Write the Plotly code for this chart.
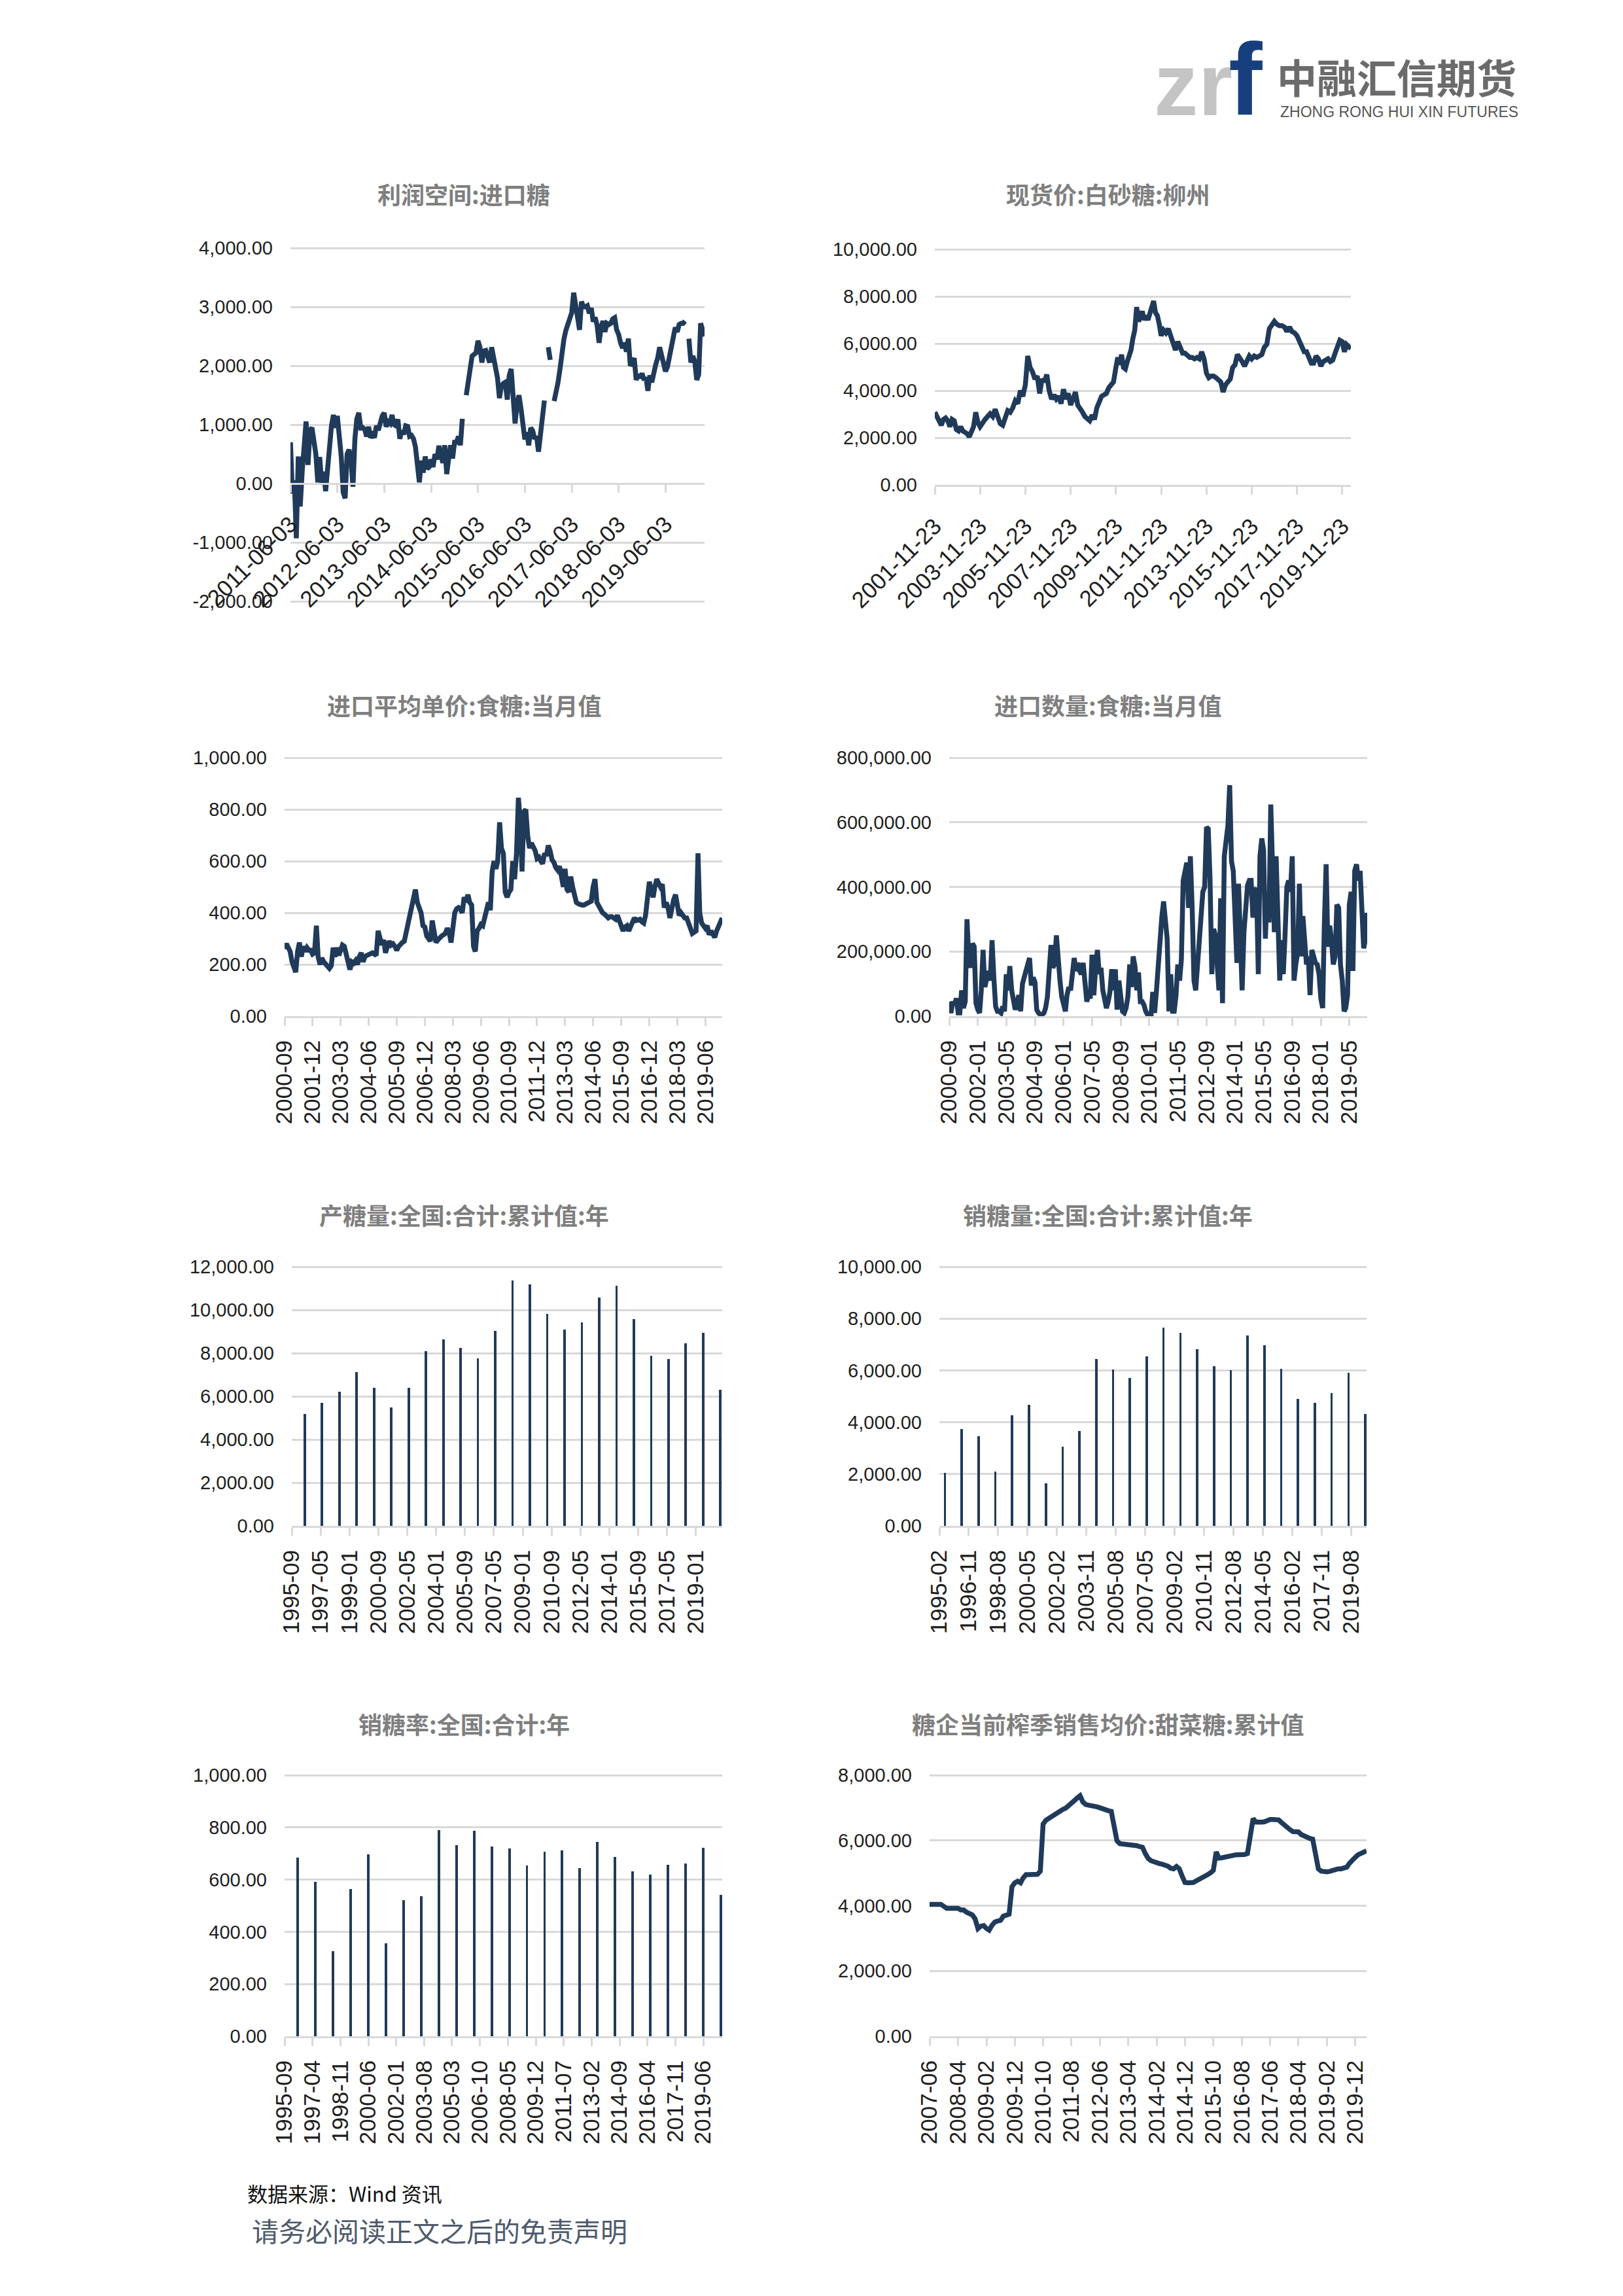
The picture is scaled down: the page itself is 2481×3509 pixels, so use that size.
import pandas as pd
import plotly.graph_objects as go

# ----------------------------------------------------------------- data
# 1) 利润空间:进口糖 (semi-monthly readings from 2011-06-03)
PROFIT_START = "2011-06-03"
PROFIT_VALUES = [
    700, -170, 55, -930, 460, -390, 200, 720, 1055, 315, 900, 950, 720, 500, 20, 450, -20, 200, -130, 300, 600, 980, 1165, 945,
    1150, 870, 460, -150, -250, 500, 575, 400, -55, 760, 1100, 1200, 945, 950, 920, 800, 965, 780, 830, 780, 980, 905, 1050, 1150,
    1200, 965, 1050, 1020, 1165, 1000, 980, 1090, 760, 900, 835, 980, 970, 800, 815, 760, 620, 315, 20, 390, 185, 460, 250, 280,
    410, 280, 500, 410, 640, 500, 350, 650, 160, 425, 650, 425, 700, 700, 800, 650, 1100, None, 1500, 1680, 1945, 2165, 2200, 2220,
    2425, 2315, 2055, 2250, 2260, 2165, 2055, 2315, 2150, 1905, 1795, 1450, 1650, 1700, 1720, 1425, 1835, 1945, 1400, 1020, 1350, 1500, 1280, 1000,
    750, 870, 650, 945, 900, 760, 800, 540, 850, 1050, 1410, None, 2315, 2100, None, 1400, 1535, 1720, 1945, 2300, 2450, 2600, 2720, 2850,
    2900, 3240, 3055, 2850, 2610, 3090, 3000, 3000, 3020, 2890, 2980, 2750, 2820, 2685, 2390, 2650, 2760, 2575, 2720, 2700, 2720, 2795, 2815, 2610,
    2535, 2390, 2300, 2390, 2240, 2460, 2000, 2055, 2130, 1760, 1850, 1795, 1870, 1760, 1800, 1575, 1835, 1720, 1940, 2020, 2130, 2315, 2180, 2020,
    1905, 1980, 2160, 2390, 2500, 2650, 2575, 2700, 2720, 2720, 2760, None, 2460, 2055, 2165, 2070, 1760, 1850, 2720, 2575, 2500,
]
PROFIT_TICKS = ["2011-06-03", "2012-06-03", "2013-06-03", "2014-06-03", "2015-06-03",
                "2016-06-03", "2017-06-03", "2018-06-03", "2019-06-03"]

# 2) 现货价:白砂糖:柳州 (readings grouped by two-year period)
SPOT_BOUNDS = ["2001-11-23", "2003-11-23", "2005-11-23", "2007-11-23", "2009-11-23", "2011-11-23",
               "2013-11-23", "2015-11-23", "2017-11-23", "2019-11-23", "2020-04-10"]
SPOT_COUNTS = [21, 18, 19, 19, 24, 19, 19, 18, 19, 5]
SPOT_VALUES = [
    3085, 2900, 2780, 2530, 2780, 2840, 2720, 2470, 2780, 2720, 2350, 2290, 2470, 2290, 2230, 2170, 2040, 2230, 2470, 3085, 2650,
    2470, 2650, 2780, 2900, 3020, 2900, 3210, 2900, 2600, 2530, 2900, 3150, 3085, 3270, 3570, 3450, 4000, 3760,
    4250, 5470, 4980, 4800, 4490, 4620, 3880, 4490, 4370, 4680, 4000, 3640, 3820, 3640, 3760, 3450, 4060, 3640, 3880,
    3390, 3640, 3940, 3390, 3270, 3085, 2900, 2780, 2720, 2960, 2780, 3270, 3570, 3760, 3820, 3880, 4120, 4250, 4370,
    4980, 5410, 5100, 5530, 4980, 4920, 5230, 5470, 5720, 6210, 6570, 7550, 6940, 7120, 7370, 7000, 7180, 7000, 7250, 7550, 7800, 7310, 7180, 6820,
    6330, 6570, 6450, 6630, 6330, 6080, 5720, 6080, 5780, 5590, 5590, 5470, 5410, 5410, 5350, 5410, 5350, 5650, 5350,
    4740, 4550, 4620, 4620, 4550, 4490, 4370, 3940, 4250, 4370, 4490, 4980, 5100, 5530, 5410, 5230, 5040, 5290, 5470,
    5350, 5470, 5410, 5470, 5530, 5840, 5960, 6630, 6820, 6940, 6820, 6760, 6760, 6700, 6510, 6700, 6510, 6450,
    6330, 6080, 5840, 5650, 5650, 5350, 5170, 5170, 5470, 5350, 5040, 5230, 5290, 5350, 5230, 5290, 5590, 5900, 6140,
    6080, 5650, 5960, 5840, 5780,
]
SPOT_TICKS = ["2001-11-23", "2003-11-23", "2005-11-23", "2007-11-23", "2009-11-23",
              "2011-11-23", "2013-11-23", "2015-11-23", "2017-11-23", "2019-11-23"]

# 3) 进口平均单价:食糖:当月值 (monthly from 2000-09)
IMPORT_PRICE_START = "2000-09"
IMPORT_PRICE = [
    260, 280, 265, 250, 210, 185, 170, 250, 285, 230,
    270, 250, 265, 255, 255, 240, 245, 350, 230, 200,
    225, 210, 200, 190, 185, 195, 265, 230, 265, 235,
    260, 275, 270, 240, 200, 180, 210, 205, 215, 200,
    230, 245, 210, 230, 235, 240, 240, 245, 240, 235,
    330, 305, 275, 295, 245, 270, 290, 275, 280, 270,
    255, 270, 280, 285, 290, 325, 345, 380, 420, 460,
    490, 440, 425, 400, 350, 345, 310, 295, 290, 370,
    310, 285, 295, 305, 310, 315, 320, 340, 325, 285,
    330, 400, 415, 420, 415, 400, 460, 440, 470, 440,
    430, 270, 250, 330, 340, 355, 350, 375, 400, 440,
    410, 560, 600, 570, 600, 750, 650, 630, 480, 460,
    480, 490, 600, 530, 630, 845, 760, 560, 790, 800,
    700, 650, 670, 655, 640, 610, 615, 600, 590, 630,
    620, 660, 640, 605, 595, 575, 565, 580, 540, 500,
    570, 490, 480, 540, 500, 470, 440, 435, 430, 430,
    430, 435, 440, 440, 445, 500, 530, 440, 425, 415,
    400, 395, 390, 380, 385, 385, 380, 375, 390, 370,
    355, 330, 345, 350, 330, 350, 370, 380, 370, 375,
    375, 365, 360, 390, 440, 520, 490, 460, 500, 530,
    515, 500, 510, 420, 440, 420, 380, 420, 450, 470,
    420, 390, 400, 390, 380, 380, 360, 330, 320, 325,
    330, 630, 400, 360, 345, 340, 350, 315, 330, 320,
    305, 330, 350, 370, 380,
]
IMPORT_PRICE_TICKS = ["2000-09", "2001-12", "2003-03", "2004-06", "2005-09", "2006-12", "2008-03", "2009-06",
                      "2010-09", "2011-12", "2013-03", "2014-06", "2015-09", "2016-12", "2018-03", "2019-06"]

# 4) 进口数量:食糖:当月值 (monthly from 2000-09, thousand tonnes)
IMPORT_QTY_START = "2000-09"
IMPORT_QTY_K = [
    45, 10, 45, 35, 55, 10, 10, 80, 25, 45,
    300, 175, 150, 225, 215, 40, 20, 10, 80, 205,
    90, 120, 140, 110, 235, 120, 30, 15, 15, 10,
    30, 15, 130, 80, 155, 80, 45, 20, 40, 65,
    15, 100, 120, 140, 165, 180, 95, 120, 105, 20,
    10, 5, 5, 10, 25, 60, 140, 220, 150, 160,
    250, 160, 110, 60, 30, 15, 65, 90, 80, 150,
    180, 140, 165, 140, 130, 165, 90, 45, 65, 55,
    190, 65, 150, 205, 130, 150, 80, 45, 25, 45,
    75, 145, 80, 145, 20, 110, 60, 15, 10, 25,
    60, 160, 90, 185, 155, 80, 135, 45, 45, 35,
    15, 5, 5, 5, 75, 10, 75, 160, 255, 305,
    355, 300, 240, 15, 130, 15, 15, 65, 160, 110,
    175, 420, 460, 475, 335, 495, 335, 110, 80, 175,
    260, 310, 385, 400, 585, 580, 420, 130, 270, 250,
    165, 80, 365, 40, 495, 560, 590, 715, 480, 450,
    280, 165, 410, 225, 80, 260, 355, 405, 420, 420,
    305, 390, 395, 130, 495, 550, 515, 240, 385, 290,
    655, 375, 260, 495, 250, 110, 235, 130, 250, 400,
    420, 385, 495, 110, 160, 195, 410, 185, 310, 195,
    160, 185, 65, 205, 175, 165, 160, 130, 55, 25,
    280, 470, 215, 280, 235, 160, 185, 345, 335, 160,
    110, 15, 25, 65, 345, 385, 140, 450, 470, 420,
    450, 345, 210, 240, 320,
]
IMPORT_QTY_TICKS = ["2000-09", "2002-01", "2003-05", "2004-09", "2006-01", "2007-05", "2008-09", "2010-01",
                    "2011-05", "2012-09", "2014-01", "2015-05", "2016-09", "2018-01", "2019-05"]

# 5) 产糖量:全国:合计:累计值:年 (June of each year)
PROD_YEARS = list(range(1996, 2021))
PROD_VALUES = [5180, 5690, 6200, 7130, 6400, 5490, 6380, 8090, 8640, 8250, 7750, 9040, 11370,
               11170, 9830, 9090, 9430, 10570, 11130, 9570, 7890, 7740, 8440, 8940, 6300]
PROD_TICKS = ["1995-09", "1997-05", "1999-01", "2000-09", "2002-05", "2004-01", "2005-09", "2007-05",
              "2009-01", "2010-09", "2012-05", "2014-01", "2015-09", "2017-05", "2019-01"]

# 6) 销糖量:全国:合计:累计值:年
SALES_YEARS = list(range(1995, 2021))
SALES_VALUES = [2040, 3750, 3470, 2090, 4280, 4660, 1640, 3050, 3670, 6450, 6040, 5710, 6530,
                7640, 7450, 6810, 6150, 6000, 7360, 6980, 6070, 4910, 4740, 5120, 5910, 4330]
SALES_TICKS = ["1995-02", "1996-11", "1998-08", "2000-05", "2002-02", "2003-11", "2005-08", "2007-05",
               "2009-02", "2010-11", "2012-08", "2014-05", "2016-02", "2017-11", "2019-08"]

# 7) 销糖率:全国:合计:年
RATE_YEARS = list(range(1996, 2021))
RATE_VALUES = [683, 591, 325, 565, 698, 355, 521, 536, 790, 731, 786, 728, 720,
               653, 707, 711, 644, 744, 687, 632, 620, 657, 662, 723, 541]
RATE_TICKS = ["1995-09", "1997-04", "1998-11", "2000-06", "2002-01", "2003-08", "2005-03", "2006-10",
              "2008-05", "2009-12", "2011-07", "2013-02", "2014-09", "2016-04", "2017-11", "2019-06"]

# 8) 糖企当前榨季销售均价:甜菜糖:累计值 (monthly from 2007-06)
BEET_START = "2007-06"
BEET_VALUES = [
    4040, 4040, 4040, 4040, 4040, 3980, 3920, 3920, 3920, 3920,
    3920, 3870, 3870, 3800, 3740, 3720, 3600, 3300, 3370, 3390,
    3300, 3250, 3400, 3500, 3530, 3550, 3680, 3720, 3740, 4580,
    4700, 4750, 4700, 4850, 4950, 4950, 4950, 4950, 4960, 5060,
    6500, 6620, 6680, 6720, 6780, 6820, 6880, 6950, 6990, 7080,
    7150, 7220, 7300, 7370, 7180, 7100, 7080, 7070, 7060, 7030,
    7000, 6960, 6940, 6910, 6890, 6400, 5990, 5900, 5890, 5910,
    5900, 5880, 5860, 5840, 5810, 5790, 5600, 5450, 5380, 5340,
    5320, 5290, 5270, 5250, 5210, 5150, 5130, 5200, 5130, 4900,
    4710, 4700, 4700, 4710, 4760, 4800, 4850, 4900, 4950, 5010,
    5080, 5650, 5460, 5470, 5480, 5490, 5510, 5540, 5560, 5560,
    5560, 5570, 5600, 6100, 6670, 6560, 6550, 6560, 6570, 6610,
    6640, 6640, 6640, 6630, 6550, 6460, 6400, 6330, 6270, 6280,
    6260, 6180, 6130, 6100, 6060, 6040, 5500, 5130, 5060, 5040,
    5040, 5050, 5080, 5130, 5130, 5130, 5150, 5180, 5300, 5420,
    5480, 5560, 5600, 5620, 5680,
]
BEET_TICKS = ["2007-06", "2008-04", "2009-02", "2009-12", "2010-10", "2011-08", "2012-06", "2013-04",
              "2014-02", "2014-12", "2015-10", "2016-08", "2017-06", "2018-04", "2019-02", "2019-12"]

TITLES = ["利润空间:进口糖", "现货价:白砂糖:柳州", "进口平均单价:食糖:当月值", "进口数量:食糖:当月值",
          "产糖量:全国:合计:累计值:年", "销糖量:全国:合计:累计值:年", "销糖率:全国:合计:年",
          "糖企当前榨季销售均价:甜菜糖:累计值"]

# ----------------------------------------------------------------- derived x values
profit_x = [pd.Timestamp(PROFIT_START) + pd.Timedelta(days=365.25 / 24 * k) for k in range(len(PROFIT_VALUES))]

spot_x = []
for i, n in enumerate(SPOT_COUNTS):
    a, b = pd.Timestamp(SPOT_BOUNDS[i]), pd.Timestamp(SPOT_BOUNDS[i + 1])
    last = i == len(SPOT_COUNTS) - 1
    step = (b - a) / (n - 1 if last else n)
    spot_x += [a + step * k for k in range(n)]

price_x = pd.date_range(IMPORT_PRICE_START, periods=len(IMPORT_PRICE), freq="MS")
qty_x = pd.date_range(IMPORT_QTY_START, periods=len(IMPORT_QTY_K), freq="MS")
qty_y = [v * 1000 for v in IMPORT_QTY_K]
beet_x = pd.date_range(BEET_START, periods=len(BEET_VALUES), freq="MS")
prod_x = [f"{y}-06-01" for y in PROD_YEARS]
sales_x = [f"{y}-06-01" for y in SALES_YEARS]
rate_x = [f"{y}-06-01" for y in RATE_YEARS]

# ----------------------------------------------------------------- styling
W, H = 2481, 3509
NAVY = "#203a5a"
GRID = "#d9d9d9"
TXT = "#1e1e1e"
YFONT = dict(family="Liberation Sans, Arial, sans-serif", size=29, color=TXT)
XFONT = dict(family="Liberation Sans, Arial, sans-serif", size=35, color=TXT)
CJK = "Noto Sans CJK SC"
PAD = 3  # px of head-room so the outermost gridline is drawn


def fx(px):
    return px / W


def fy(py):
    return 1 - py / H


def yaxis(top, bot, vals, xname, pad_bottom=False):
    lo, hi = vals[0], vals[-1]
    per_px = (hi - lo) / (bot - top)
    rng_hi = hi + PAD * per_px
    rng_lo = lo - PAD * per_px if pad_bottom else lo
    dom_bot = bot + PAD if pad_bottom else bot
    return dict(domain=[fy(dom_bot), fy(top - PAD)], range=[rng_lo, rng_hi], tickvals=vals,
                ticktext=[f"{v:,.2f}" for v in vals], tickfont=YFONT, showgrid=True,
                gridcolor=GRID, gridwidth=2.5, zeroline=False, showline=False, ticks="",
                ticklabelstandoff=26, anchor=xname, automargin=False, fixedrange=True)


def xaxis(left, right, rng, ticks, yname, angle=-90, standoff=8):
    return dict(domain=[fx(left), fx(right)], type="date", range=rng, tickvals=ticks, ticktext=ticks,
                tickangle=angle, tickfont=XFONT, showgrid=False, zeroline=False, showline=True,
                linecolor=GRID, linewidth=2.5, ticks="outside", ticklen=12, tickcolor=GRID,
                tickwidth=2.5, ticklabelstandoff=standoff, anchor=yname, automargin=False,
                fixedrange=True)


fig = go.Figure()

LW = 7.5
BARW = 52 * 86400000

fig.add_trace(go.Scatter(x=profit_x, y=PROFIT_VALUES, mode="lines", line=dict(color=NAVY, width=LW),
                         connectgaps=False, xaxis="x", yaxis="y"))
fig.add_trace(go.Scatter(x=spot_x, y=SPOT_VALUES, mode="lines", line=dict(color=NAVY, width=LW),
                         xaxis="x2", yaxis="y2"))
fig.add_trace(go.Scatter(x=price_x, y=IMPORT_PRICE, mode="lines", line=dict(color=NAVY, width=LW),
                         xaxis="x3", yaxis="y3"))
fig.add_trace(go.Scatter(x=qty_x, y=qty_y, mode="lines", line=dict(color=NAVY, width=LW),
                         xaxis="x4", yaxis="y4"))
fig.add_trace(go.Bar(x=prod_x, y=PROD_VALUES, width=BARW, marker=dict(color=NAVY, line=dict(width=0)),
                     xaxis="x5", yaxis="y5"))
fig.add_trace(go.Bar(x=sales_x, y=SALES_VALUES, width=BARW, marker=dict(color=NAVY, line=dict(width=0)),
                     xaxis="x6", yaxis="y6"))
fig.add_trace(go.Bar(x=rate_x, y=RATE_VALUES, width=BARW, marker=dict(color=NAVY, line=dict(width=0)),
                     xaxis="x7", yaxis="y7"))
fig.add_trace(go.Scatter(x=beet_x, y=BEET_VALUES, mode="lines", line=dict(color=NAVY, width=LW),
                         xaxis="x8", yaxis="y8"))

layout = dict(template="none", width=W, height=H, margin=dict(l=0, r=0, t=0, b=0, pad=0),
              paper_bgcolor="white", plot_bgcolor="white", showlegend=False, bargap=0,
              font=dict(family="Liberation Sans, sans-serif", color=TXT))

# chart 1 : x axis sits on the zero line
c1_top, c1_bot = 379, 919
y1_vals = list(range(-2000, 4001, 1000))
layout["yaxis"] = yaxis(c1_top, c1_bot, y1_vals, "x", pad_bottom=True)
zero_py = c1_bot - (0 - y1_vals[0]) / (y1_vals[-1] - y1_vals[0]) * (c1_bot - c1_top)
xa1 = xaxis(444, 1077, [PROFIT_START, profit_x[-1]], PROFIT_TICKS, "free", angle=-45, standoff=14)
xa1["position"] = fy(zero_py)
layout["xaxis"] = xa1

layout["yaxis2"] = yaxis(381, 741, list(range(0, 10001, 2000)), "x2")
layout["xaxis2"] = xaxis(1429, 2065, [SPOT_BOUNDS[0], SPOT_BOUNDS[-1]], SPOT_TICKS, "y2", angle=-45, standoff=14)

layout["yaxis3"] = yaxis(1158, 1553, list(range(0, 1001, 200)), "x3")
layout["xaxis3"] = xaxis(435, 1104, [price_x[0], price_x[-1]], IMPORT_PRICE_TICKS, "y3")

layout["yaxis4"] = yaxis(1158, 1553, list(range(0, 800001, 200000)), "x4")
layout["xaxis4"] = xaxis(1451, 2090, [qty_x[0], qty_x[-1]], IMPORT_QTY_TICKS, "y4")

layout["yaxis5"] = yaxis(1936, 2332, list(range(0, 12001, 2000)), "x5")
layout["xaxis5"] = xaxis(446, 1104, ["1995-09-01", "2020-07-08"], PROD_TICKS, "y5")

layout["yaxis6"] = yaxis(1936, 2332, list(range(0, 10001, 2000)), "x6")
layout["xaxis6"] = xaxis(1436, 2089, ["1995-02-01", "2020-06-28"], SALES_TICKS, "y6")

layout["yaxis7"] = yaxis(2713, 3112, list(range(0, 1001, 200)), "x7")
layout["xaxis7"] = xaxis(435, 1104, ["1995-09-01", "2020-06-28"], RATE_TICKS, "y7")

layout["yaxis8"] = yaxis(2713, 3112, list(range(0, 8001, 2000)), "x8")
layout["xaxis8"] = xaxis(1421, 2089, [beet_x[0], beet_x[-1]], BEET_TICKS, "y8")

fig.update_layout(**layout)

# ----------------------------------------------------------------- titles & page text
title_pos = [(709, 296), (1694, 296), (709, 1077), (1694, 1077),
             (709, 1856), (1694, 1856), (709, 2634), (1694, 2634)]
ann = []
for t, (px, py) in zip(TITLES, title_pos):
    ann.append(dict(text=f"<b>{t}</b>", x=fx(px), y=fy(py), xref="paper", yref="paper",
                    xanchor="center", yanchor="middle", showarrow=False,
                    font=dict(family=CJK, size=36, color="#7f7f7f")))

# logo
ann.append(dict(text="<b>zr</b>", x=fx(1762), y=fy(129), xref="paper", yref="paper",
                xanchor="left", yanchor="middle", showarrow=False,
                font=dict(family="Liberation Sans, sans-serif", size=135, color="#c4c4c4")))
ann.append(dict(text="<b>f</b>", x=fx(1876), y=fy(122), xref="paper", yref="paper",
                xanchor="left", yanchor="middle", showarrow=False,
                font=dict(family="Liberation Sans, sans-serif", size=155, color="#173f7d")))
ann.append(dict(text="<b>中融汇信期货</b>", x=fx(1950), y=fy(117), xref="paper", yref="paper",
                xanchor="left", yanchor="middle", showarrow=False,
                font=dict(family=CJK, size=61, color="#6b6b6b")))
ann.append(dict(text="ZHONG RONG HUI XIN FUTURES", x=fx(1955), y=fy(171), xref="paper", yref="paper",
                xanchor="left", yanchor="middle", showarrow=False,
                font=dict(family="Liberation Sans, sans-serif", size=23, color="#555555")))

# footer
ann.append(dict(text="数据来源：Wind 资讯", x=fx(376), y=fy(3351), xref="paper", yref="paper",
                xanchor="left", yanchor="middle", showarrow=False,
                font=dict(family=CJK, size=31, color="#111111")))
ann.append(dict(text="请务必阅读正文之后的免责声明", x=fx(383), y=fy(3408), xref="paper", yref="paper",
                xanchor="left", yanchor="middle", showarrow=False,
                font=dict(family=CJK, size=41, color="#4e5a6c")))

fig.update_layout(annotations=ann)

fig.write_html("out.html", config={"displayModeBar": False},
               post_script="document.body.style.margin='0';document.body.style.overflow='hidden';")
